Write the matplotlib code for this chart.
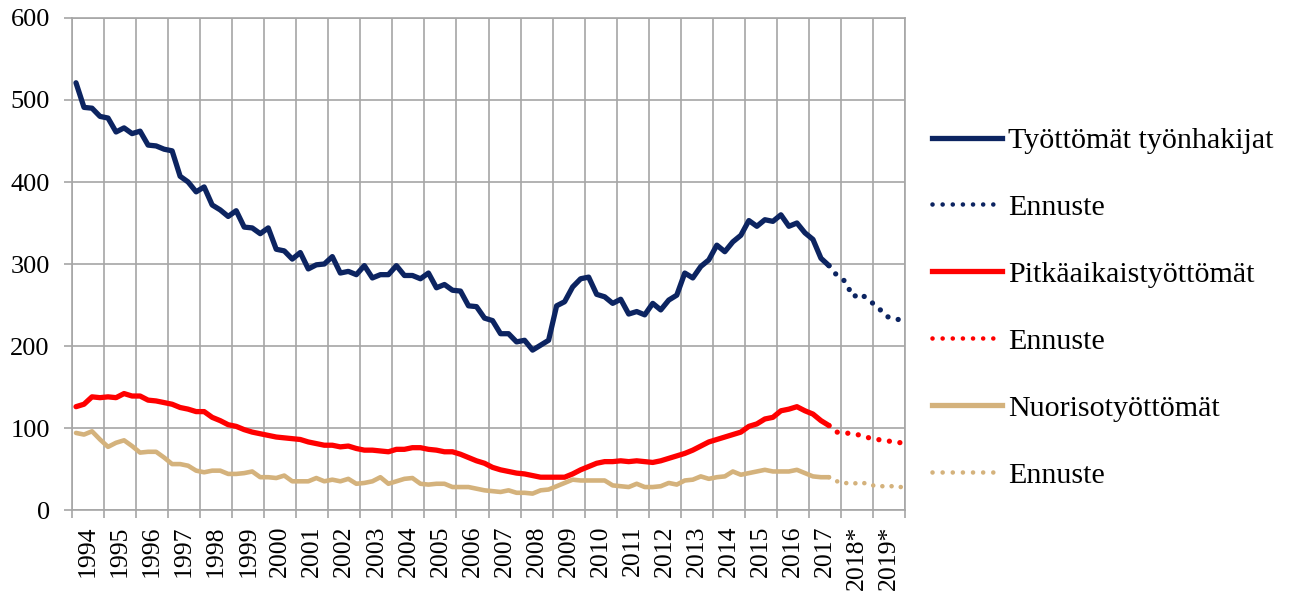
import matplotlib
matplotlib.use("Agg")
import matplotlib.pyplot as plt
from matplotlib.lines import Line2D
import numpy as np

plt.rcParams["font.family"] = ["Liberation Serif", "DejaVu Serif"]

years = [str(y) for y in range(1994, 2018)] + ["2018*", "2019*"]

# quarterly values, 1994Q1 .. 2017Q3 (thousands)
tyottomat = [
    521, 491, 490, 480, 478, 461, 466, 459, 462, 445, 444, 440,
    438, 407, 400, 388, 394, 372, 366, 358, 365, 345, 344, 337,
    344, 318, 316, 306, 314, 294, 299, 300, 309, 289, 291, 287,
    298, 283, 287, 287, 298, 286, 286, 282, 289, 271, 275, 268,
    267, 249, 248, 234, 231, 215, 215, 205, 207, 195, 201, 207,
    249, 254, 272, 282, 284, 263, 260, 252, 257, 239, 242, 238,
    252, 244, 256, 262, 289, 283, 297, 305, 323, 315, 327, 335,
    353, 346, 354, 352, 360, 346, 350, 338, 330, 307, 298,
]
pitkaaikais = [
    126, 129, 138, 137, 138, 137, 142, 139, 139, 134, 133, 131,
    129, 125, 123, 120, 120, 113, 109, 104, 102, 98, 95, 93,
    91, 89, 88, 87, 86, 83, 81, 79, 79, 77, 78, 75,
    73, 73, 72, 71, 74, 74, 76, 76, 74, 73, 71, 71,
    68, 64, 60, 57, 52, 49, 47, 45, 44, 42, 40, 40,
    40, 40, 44, 49, 53, 57, 59, 59, 60, 59, 60, 59,
    58, 60, 63, 66, 69, 73, 78, 83, 86, 89, 92, 95,
    102, 105, 111, 113, 121, 123, 126, 121, 117, 109, 103,
]
nuoriso = [
    94, 92, 96, 86, 77, 82, 85, 78, 70, 71, 71, 64,
    56, 56, 54, 48, 46, 48, 48, 44, 44, 45, 47, 40,
    40, 39, 42, 35, 35, 35, 39, 35, 37, 35, 38, 32,
    33, 35, 40, 32, 35, 38, 39, 32, 31, 32, 32, 28,
    28, 28, 26, 24, 23, 22, 24, 21, 21, 20, 24, 25,
    29, 33, 37, 36, 36, 36, 36, 30, 29, 28, 32, 28,
    28, 29, 33, 31, 36, 37, 41, 38, 40, 41, 47, 43,
    45, 47, 49, 47, 47, 47, 49, 45, 41, 40, 40,
]
# forecasts, 2017Q3 .. 2019Q4
tyottomat_ennuste = [298, 286, 279, 260, 264, 255, 249, 237, 233, 232]
pitkaaikais_ennuste = [103, 95, 94, 93, 91, 88, 86, 85, 83, 82]
nuoriso_ennuste = [40, 35, 33, 32, 34, 31, 29, 29, 29, 28]

NAVY = "#0c2461"
RED = "#ff0000"
TAN = "#d4b27c"
GRID = "#a6a6a6"
DOT = (0, (0.01, 2.0))


def qx(start, n):
    return (np.arange(start, start + n) + 0.5) / 4


fig = plt.figure(figsize=(12.9, 5.92), dpi=100)
ax = fig.add_axes([0.0558, 0.1385, 0.6458, 0.8311])

n = len(tyottomat)
for vals, fc, col, lw in [(tyottomat, tyottomat_ennuste, NAVY, 3.8),
                          (pitkaaikais, pitkaaikais_ennuste, RED, 3.8),
                          (nuoriso, nuoriso_ennuste, TAN, 3.3)]:
    ax.plot(qx(0, n), vals, color=col, lw=lw, solid_joinstyle="round",
            solid_capstyle="round", zorder=3)
    ax.plot(qx(n - 1, len(fc)), fc, color=col, lw=lw, linestyle=DOT,
            dash_capstyle="round", zorder=3)

ax.set_xlim(0, len(years))
ax.set_ylim(0, 600)
ax.set_yticks(range(0, 601, 100))
ax.set_xticks(range(0, len(years) + 1))
ax.set_xticklabels([])
ax.set_xticks(np.arange(len(years)) + 0.5, minor=True)
ax.set_xticklabels(years, minor=True, rotation=90, fontsize=18.5)
ax.tick_params(axis="x", which="minor", length=0, pad=11)
ax.tick_params(axis="x", which="major", length=6, color=GRID, width=1.2)
ax.tick_params(axis="y", length=6, color=GRID, width=1.2, labelsize=19, pad=10)
ax.grid(True, which="major", color=GRID, lw=1.2)
ax.set_axisbelow(True)
for s in ax.spines.values():
    s.set_color(GRID)
    s.set_linewidth(1.2)

handles = [
    Line2D([], [], color=NAVY, lw=3.8),
    Line2D([], [], color=NAVY, lw=3.3, linestyle=(0, (0.01, 2.2)), dash_capstyle="round"),
    Line2D([], [], color=RED, lw=3.8),
    Line2D([], [], color=RED, lw=3.3, linestyle=(0, (0.01, 2.2)), dash_capstyle="round"),
    Line2D([], [], color=TAN, lw=3.8),
    Line2D([], [], color=TAN, lw=3.3, linestyle=(0, (0.01, 2.2)), dash_capstyle="round"),
]
labels = ["Työttömät työnhakijat", "Ennuste", "Pitkäaikaistyöttömät", "Ennuste",
          "Nuorisotyöttömät", "Ennuste"]
fig.legend(handles, labels, loc="center left", bbox_to_anchor=(0.7225, 0.48),
           frameon=False, fontsize=21.6, handlelength=2.33, handletextpad=0.2,
           labelspacing=1.33, borderpad=0, borderaxespad=0)

fig.savefig("out.png", dpi=100)
